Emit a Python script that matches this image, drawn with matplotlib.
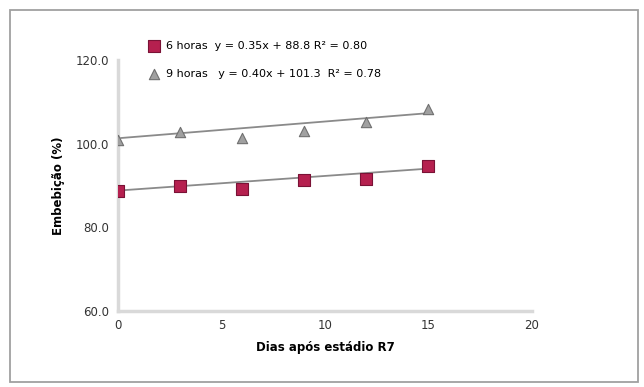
import numpy as np
import matplotlib.pyplot as plt
from matplotlib.patches import Rectangle

dias = [0, 3, 6, 9, 12, 15]
horas6 = [88.7, 89.9, 89.2, 91.3, 91.6, 94.7]
horas9 = [101.0, 102.7, 101.4, 103.1, 105.3, 108.2]

# trend line coefficients (slope, intercept) from the chart labels
trend6 = (0.35, 88.8)
trend9 = (0.40, 101.3)

labels = [
    "6 horas  y = 0.35x + 88.8 R² = 0.80",
    "9 horas   y = 0.40x + 101.3  R² = 0.78",
]

xticks = [0, 5, 10, 15, 20]
yticks = [60.0, 80.0, 100.0, 120.0]

fig = plt.figure(figsize=(6.44, 3.87), dpi=100)
fig.patches.append(Rectangle((0.016, 0.012), 0.975, 0.962, transform=fig.transFigure,
                             fill=False, edgecolor="#a0a0a0", linewidth=1.3))
ax = fig.add_axes([0.183, 0.196, 0.643, 0.649])

xs = np.array([dias[0], dias[-1]])
ax.plot(xs, trend6[0] * xs + trend6[1], color="#8a8a8a", linewidth=1.3, zorder=2)
ax.plot(xs, trend9[0] * xs + trend9[1], color="#8a8a8a", linewidth=1.3, zorder=2)

ax.scatter(dias, horas6, marker="s", s=70, color="#b5204f", edgecolors="#7a1236",
           linewidths=0.8, zorder=3, label=labels[0])
ax.scatter(dias, horas9, marker="^", s=55, color="#a0a0a0", edgecolors="#707070",
           linewidths=0.8, zorder=3, label=labels[1])

ax.set_xlim(0, 20)
ax.set_ylim(60, 120)
ax.set_xticks(xticks)
ax.set_yticks(yticks)
ax.set_yticklabels([f"{v:.1f}" for v in yticks])
ax.tick_params(length=0, labelsize=8.5, colors="#333333", pad=6)

for side in ["top", "right"]:
    ax.spines[side].set_visible(False)
for side in ["left", "bottom"]:
    ax.spines[side].set_color("#d9d9d9")
    ax.spines[side].set_linewidth(2.5)

ax.set_xlabel("Dias após estádio R7", fontsize=8.5, fontweight="bold", labelpad=6)
ax.set_ylabel("Embebição (%)", fontsize=8.5, fontweight="bold", labelpad=8)

ax.legend(loc="upper left", bbox_to_anchor=(0.05, 1.095), frameon=False, fontsize=8,
          handletextpad=0.1, labelspacing=1.65, borderaxespad=0)

fig.savefig("out.png", dpi=100)
